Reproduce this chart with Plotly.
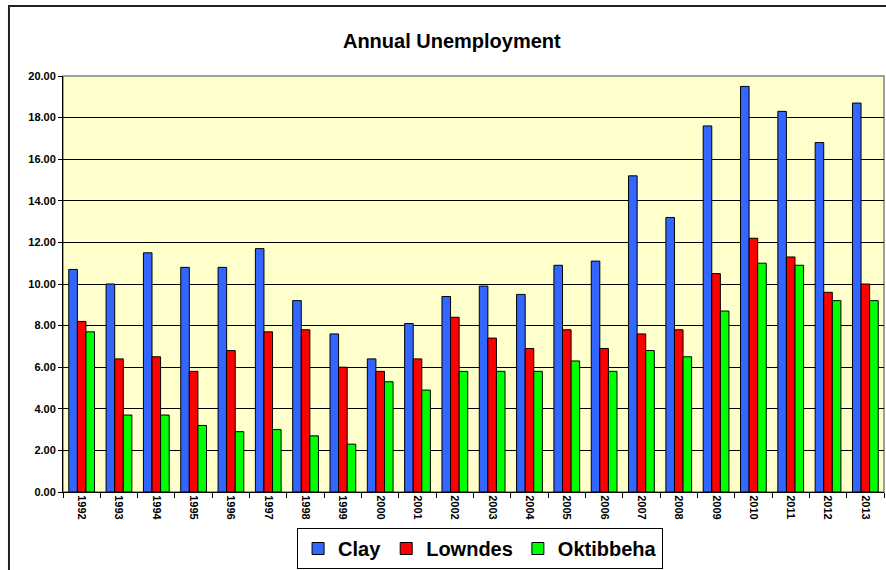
import plotly.graph_objects as go

years = [str(y) for y in range(1992, 2014)]
clay = [10.7, 10.0, 11.5, 10.8, 10.8, 11.7, 9.2, 7.6, 6.4, 8.1, 9.4, 9.9, 9.5, 10.9,
        11.1, 15.2, 13.2, 17.6, 19.5, 18.3, 16.8, 18.7]
lowndes = [8.2, 6.4, 6.5, 5.8, 6.8, 7.7, 7.8, 6.0, 5.8, 6.4, 8.4, 7.4, 6.9, 7.8,
           6.9, 7.6, 7.8, 10.5, 12.2, 11.3, 9.6, 10.0]
oktibbeha = [7.7, 3.7, 3.7, 3.2, 2.9, 3.0, 2.7, 2.3, 5.3, 4.9, 5.8, 5.8, 5.8, 6.3,
             5.8, 6.8, 6.5, 8.7, 11.0, 10.9, 9.2, 9.2]
y_ticks = [0, 2, 4, 6, 8, 10, 12, 14, 16, 18, 20]

series = [("Clay", clay, "#3366FF"), ("Lowndes", lowndes, "#FF0000"),
          ("Oktibbeha", oktibbeha, "#00FF00")]

FONT = "Arial, 'Liberation Sans', sans-serif"

fig = go.Figure()
for name, vals, col in series:
    fig.add_trace(go.Bar(x=years, y=vals, name=name,
                         marker=dict(color=col, line=dict(color="#000000", width=1))))

fig.update_layout(
    width=886, height=570,
    margin=dict(l=63, r=2, t=76, b=78, autoexpand=False),
    paper_bgcolor="white",
    plot_bgcolor="#FFFFCC",
    barmode="group", bargap=0.31, bargroupgap=0,
    font=dict(family=FONT, color="black"),
    title=dict(text="Annual Unemployment",
               font=dict(size=20, family=FONT, weight="bold"),
               x=0.51, xref="container", xanchor="center",
               y=1 - 41 / 570, yref="container", yanchor="middle"),
    legend=dict(orientation="h", x=0.508, xanchor="center",
                y=1 - 528 / 570, yref="container", yanchor="top",
                bordercolor="black", borderwidth=1, bgcolor="white",
                font=dict(size=20, family=FONT, weight="bold"), itemwidth=30,
                tracegroupgap=0),
    showlegend=True,
)
fig.update_xaxes(
    type="category", tickangle=90,
    tickfont=dict(size=11, family=FONT, weight="bold"),
    ticks="outside", ticklen=5, tickcolor="black", tickson="boundaries",
    showline=True, linecolor="black", linewidth=1, showgrid=False,
)
fig.update_yaxes(
    range=[0, 20], tickvals=y_ticks, tickformat=".2f",
    tickfont=dict(size=11, family=FONT, weight="bold"),
    ticks="outside", ticklen=4, tickcolor="black",
    showline=True, linecolor="black", linewidth=1,
    showgrid=True, gridcolor="black", gridwidth=1, zeroline=False,
)
# plot-area border (gray, top/right) and outer chart frame
fig.add_shape(type="rect", xref="paper", yref="paper", x0=0, x1=1, y0=0, y1=1,
              line=dict(color="#808080", width=1.5), layer="below")
fig.add_shape(type="rect", xref="paper", yref="paper", x0=-0.0658, x1=1.02,
              y0=-0.3, y1=1.168, line=dict(color="#222222", width=2))

fig.write_html("out.html", config={"displayModeBar": False},
               post_script="document.body.style.margin='0';")
